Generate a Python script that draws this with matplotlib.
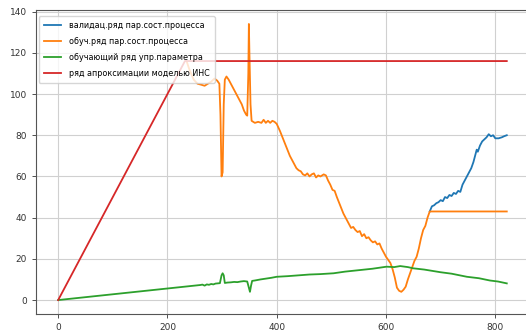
import matplotlib
matplotlib.use('Agg')
import matplotlib.pyplot as plt

# series (index -> value)
red_x = [0, 232, 821]
red_y = [0, 116, 116]

orange_x = [235, 240, 248, 255, 262, 268, 274, 280, 286, 291, 295, 297, 299, 301, 303, 305,
            308, 312, 318, 324, 330, 336, 340, 344, 346, 348, 349, 350, 352, 354, 360, 366,
            372, 376, 380, 384, 388, 392, 396, 400, 406, 412, 418, 424, 430, 436, 440, 444,
            448, 452, 456, 460, 464, 468, 472, 476, 480, 486, 490, 494, 498, 502, 506, 510,
            516, 522, 528, 532, 536, 540, 544, 548, 552, 556, 560, 564, 568, 572, 576, 580,
            584, 588, 592, 596, 600, 604, 608, 612, 616, 620, 624, 628, 632, 636, 640, 644,
            648, 652, 656, 660, 664, 668, 672, 676, 680, 821]
orange_y = [116, 112, 107, 105, 104.5, 104, 105, 106, 107.5, 106.5, 105, 90, 60, 62, 95, 107,
            108.5, 107, 104, 101, 98, 95, 92, 90, 89.5, 110, 134, 120, 95, 87, 86, 86.5,
            86, 87.5, 86, 87, 86, 87, 86.5, 85.5, 82, 78, 74, 70, 67, 64, 63, 62.5,
            61, 60.5, 61.5, 60, 61, 61.5, 59.5, 60.5, 60, 61, 60.5, 58, 56, 53.5, 53, 50,
            46, 42, 39, 37, 35, 35.5, 34, 33, 33.5, 31, 32, 30, 30.5, 29, 28, 28.5,
            27, 27.5, 25, 23, 21, 19.5, 18, 15, 11, 6, 4.5, 4, 5, 6.5, 10, 13,
            16, 19, 21, 25, 30, 34, 36, 40, 43, 43]

blue_x = [680, 684, 688, 692, 696, 700, 704, 708, 712, 716, 720, 724, 728, 732, 736, 740,
          744, 748, 752, 756, 760, 764, 766, 768, 772, 776, 780, 784, 788, 792, 796, 800,
          806, 812, 816, 821]
blue_y = [43, 45.5, 46, 47, 47.5, 48.5, 48, 50, 49.5, 51, 50.5, 52, 51.5, 53, 52.5, 56,
          58, 60, 62, 64, 67, 71, 73, 72, 75, 77, 78, 79, 80.5, 79.5, 80, 78.5,
          78.5, 79, 79.5, 80]

green_x = [0, 260, 264, 268, 272, 276, 280, 284, 288, 292, 296, 299, 301, 303, 305, 310,
           316, 322, 328, 334, 340, 346, 349, 351, 353, 355, 360, 370, 380, 390, 400, 420,
           440, 460, 480, 504, 525, 550, 575, 601, 615, 626, 640, 650, 670, 700, 720, 748,
           770, 790, 805, 821]
green_y = [0, 7.3, 7.5, 7.0, 7.6, 7.4, 7.8, 7.6, 8.0, 8.1, 8.2, 12, 13, 12, 8.3, 8.5,
           8.6, 8.8, 8.7, 9.0, 9.2, 9.0, 6.0, 4.0, 7.0, 9.3, 9.5, 10.0, 10.4, 10.8, 11.3, 11.6,
           12.0, 12.4, 12.6, 13.0, 13.8, 14.5, 15.2, 16.2, 16.0, 16.5, 16.0, 15.4, 14.8, 13.5, 12.8, 11.3,
           10.6, 9.5, 9.0, 8.1]

labels = ['валидац.ряд пар.сост.процесса', 'обуч.ряд пар.сост.процесса',
          'обучающий ряд упр.параметра', 'ряд апроксимации моделью ИНС']

fig = plt.figure(figsize=(5.26, 3.32), dpi=100)
ax = fig.add_axes([0.068, 0.054, 0.937, 0.916])

ax.plot(blue_x, blue_y, color='tab:blue', lw=1.3, label=labels[0])
ax.plot(orange_x, orange_y, color='tab:orange', lw=1.3, label=labels[1])
ax.plot(green_x, green_y, color='tab:green', lw=1.3, label=labels[2])
ax.plot(red_x, red_y, color='tab:red', lw=1.3, label=labels[3])

ax.set_xlim(-41, 861)
ax.set_ylim(-6.8, 140.8)
ax.set_xticks([0, 200, 400, 600, 800])
ax.set_yticks([0, 20, 40, 60, 80, 100, 120, 140])
ax.grid(True, color='#d0d0d0', lw=0.8)
ax.tick_params(labelsize=6.5, length=3, width=0.6, colors='#333333')
for s in ax.spines.values():
    s.set_color('#555555')

ax.legend(loc='upper left', fontsize=5.8, framealpha=0.8, handlelength=2.2,
          handletextpad=1.0, borderpad=0.6, labelspacing=0.85,
          bbox_to_anchor=(-0.002, 0.992))

fig.savefig('out.png', dpi=100)
